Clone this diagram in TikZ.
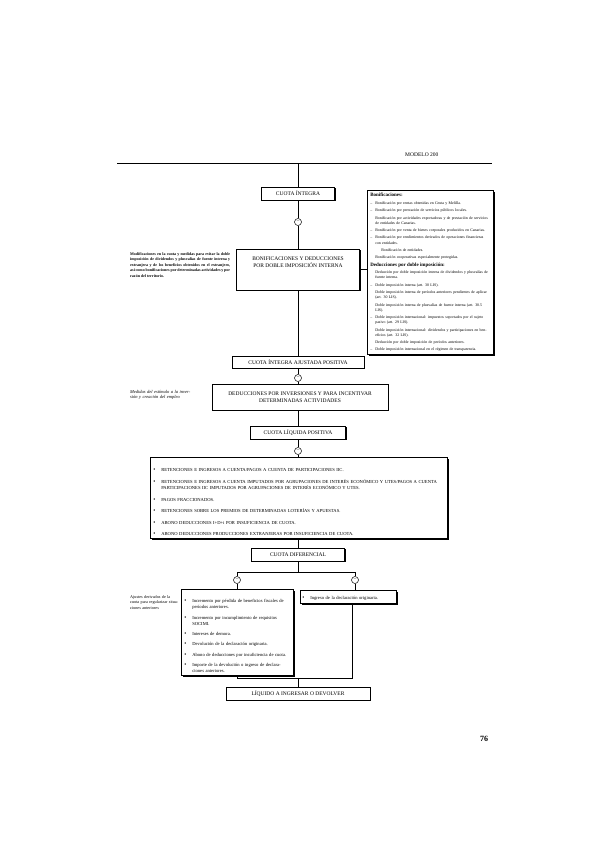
\documentclass[tikz,border=0pt]{standalone}
\usepackage{fontspec}
\setmainfont{Liberation Serif}
\usetikzlibrary{shadows}
\newcommand{\dashitem}[1]{\par\noindent\hangindent=5pt\hangafter=1\makebox[5pt][l]{–}#1\par}
\newcommand{\plainitem}[1]{\par\noindent\hangindent=5pt\hangafter=0 #1\par}
\newcommand{\dotitem}[1]{\par\noindent\hangindent=8pt\hangafter=1\makebox[8pt][l]{\fontsize{6}{6}\selectfont•}#1\par}
\tikzset{
  boxs/.style={draw, line width=0.6pt, fill=white,
    drop shadow={shadow xshift=1.3pt, shadow yshift=-1.3pt, fill=black, opacity=1},
    font=\fontsize{5.5}{6.5}\selectfont, inner sep=1pt, align=center},
  sumc/.style={draw, circle, line width=0.5pt, fill=white, minimum size=7pt,
    inner sep=0pt, font=\fontsize{5}{5}\selectfont},
  conn/.style={line width=0.6pt},
  note/.style={anchor=north west, inner sep=0pt, align=justify},
  boxtext/.style={inner sep=0pt, align=center, font=\fontsize{5.5}{6.5}\selectfont}
}
\begin{document}
\begin{tikzpicture}[x=1pt,y=-1pt]
\useasboundingbox (0,0) rectangle (612,848);
\fill[white] (0,0) rectangle (612,848);

% header
\node[anchor=west, inner sep=0pt, font=\fontsize{5.5}{6}\selectfont] (hdr) at (405,155) {MODELO 200};
\draw[line width=0.7pt] (117,163) -- (492,163);
\node[anchor=center, inner sep=0pt, font=\bfseries\fontsize{8}{9}\selectfont] (pg) at (484,739) {76};

% main column
\coordinate (tp) at (298,163);
\node[boxs, minimum width=73pt, minimum height=13pt] (ci) at (298,193.5) {CUOTA ÍNTEGRA};
\node[sumc] (c1) at (298,222) {–};
\node[boxs, minimum width=123pt, minimum height=41pt] (bon) at (298,269.5) {};
\node[boxtext] (bontxt) at (298,262) {BONIFICACIONES Y DEDUCCIONES\\POR DOBLE IMPOSICIÓN INTERNA};

\node[boxs, anchor=north west, text width=120pt, inner sep=3pt, align=left,
      font=\fontsize{3.9}{5.1}\selectfont] (bonr) at (367,190) {%
\setlength{\parskip}{2.3pt}%
\noindent\textbf{\fontsize{5}{6}\selectfont Bonificaciones:}
\dashitem{Bonificación por rentas obtenidas en Ceuta y Melilla.}
\dashitem{Bonificación por prestación de servicios públicos locales.}
\plainitem{Bonificación por actividades exportadoras y de prestación de servicios de entidades de Canarias.}
\dashitem{Bonificación por venta de bienes corporales producidos en Canarias.}
\dashitem{Bonificación por rendimientos derivados de operaciones financieras con entidades.}
\plainitem{\hspace*{6pt}Bonificación de entidades.}
\plainitem{Bonificación cooperativas especialmente protegidas.}
\noindent\textbf{\fontsize{5}{6}\selectfont Deducciones por doble imposición:}
\plainitem{Deducción por doble imposición interna de dividendos y plusvalías de fuente interna.}
\dashitem{Doble imposición interna (art. 30 LIS).}
\plainitem{Doble imposición interna de períodos anteriores pendientes de aplicar (art. 30 LIS).}
\plainitem{Doble imposición interna de plusvalías de fuente interna (art. 30.5 LIS).}
\dashitem{Doble imposición internacional: impuestos soportados por el sujeto pasivo (art. 29 LIS).}
\plainitem{Doble imposición internacional: dividendos y participaciones en beneficios (art. 32 LIS).}
\plainitem{Deducción por doble imposición de períodos anteriores.}
\dashitem{Doble imposición internacional en el régimen de transparencia.}
};

\node[note, text width=100pt, font=\bfseries\fontsize{4}{5.6}\selectfont] (n1) at (130,252) {Modificaciones en la cuota y medidas para evitar la doble imposición de dividendos y plusvalías de fuente interna y extranjera y de los beneficios obtenidos en el extranjero, así como bonificaciones por determinadas actividades y por razón del territorio.};

\node[boxs, minimum width=132pt, minimum height=12pt] (ciap) at (298,362) {CUOTA ÍNTEGRA AJUSTADA POSITIVA};
\node[sumc] (c2) at (298,378) {–};
\node[boxs, minimum width=176pt, minimum height=26pt] (ded) at (300,397) {DEDUCCIONES POR INVERSIONES Y PARA INCENTIVAR\\DETERMINADAS ACTIVIDADES};
\node[note, text width=64pt, font=\itshape\fontsize{4.5}{5.6}\selectfont, align=left] (n2) at (130,390) {Medidas del estímulo a la inversión y creación del empleo};

\node[boxs, minimum width=95pt, minimum height=13pt] (clp) at (298,432.5) {CUOTA LÍQUIDA POSITIVA};
\node[sumc] (c3) at (298,451) {–};
\node[boxs, anchor=north west, text width=291pt, inner sep=3pt, align=left,
      font=\fontsize{4.6}{6.8}\selectfont] (ret) at (150,457) {%
\setlength{\parskip}{4.6pt}%
\dotitem{RETENCIONES E INGRESOS A CUENTA/PAGOS A CUENTA DE PARTICIPACIONES IIC.}
\dotitem{RETENCIONES E INGRESOS A CUENTA IMPUTADOS POR AGRUPACIONES DE INTERÉS ECONÓMICO Y UTES/PAGOS A CUENTA PARTICIPACIONES IIC IMPUTADOS POR AGRUPACIONES DE INTERÉS ECONÓMICO Y UTES.}
\dotitem{PAGOS FRACCIONADOS.}
\dotitem{RETENCIONES SOBRE LOS PREMIOS DE DETERMINADAS LOTERÍAS Y APUESTAS.}
\dotitem{ABONO DEDUCCIONES I+D+i POR INSUFICIENCIA DE CUOTA.}
\dotitem{ABONO DEDUCCIONES PRODUCCIONES EXTRANJERAS POR INSUFICIENCIA DE CUOTA.}
};

\node[boxs, minimum width=93pt, minimum height=13pt] (cd) at (298,554.5) {CUOTA DIFERENCIAL};
\coordinate (bj) at (298,572);
\coordinate (bl) at (237,572);
\coordinate (br) at (355,572);
\node[sumc] (cl) at (237,580) {–};
\node[sumc] (cr) at (355,580) {–};

\node[boxs, anchor=north west, text width=106pt, inner sep=3pt, align=left,
      font=\fontsize{4.6}{6}\selectfont] (lb) at (181,589) {%
\setlength{\parskip}{4.4pt}%
\dotitem{Incremento por pérdida de beneficios fiscales de períodos anteriores.}
\dotitem{Incremento por incumplimiento de requisitos SOCIMI.}
\dotitem{Intereses de demora.}
\dotitem{Devolución de la declaración originaria.}
\dotitem{Abono de deducciones por insuficiencia de cuota.}
\dotitem{Importe de la devolución o ingreso de declaraciones anteriores.}
};
\node[boxs, anchor=north west, text width=92pt, minimum height=13pt, inner sep=2pt, align=left,
      font=\fontsize{4.6}{6}\selectfont] (rb) at (300,590) {\dotitem{Ingreso de la declaración originaria.}};

\node[note, text width=50pt, font=\fontsize{4.2}{5.6}\selectfont, align=left] (n3) at (130,595) {Ajustes derivados de la cuota para regularizar situaciones anteriores};

\coordinate (jl) at (237,678);
\coordinate (jr) at (352,678);
\coordinate (jm) at (298,678);
\node[boxs, minimum width=144pt, minimum height=13pt] (liq) at (298,693.5) {LÍQUIDO A INGRESAR O DEVOLVER};

% connectors
\draw[conn] (tp) -- (ci.north);
\draw[conn] (ci.south) -- (c1.north);
\draw[conn] (c1.south) -- (bon.north);
\draw[conn] (bon.east) -- (bon.east -| bonr.west);
\draw[conn] (bon.south) -- (ciap.north);
\draw[conn] (ciap.south) -- (c2.north);
\draw[conn] (c2.south) -- (c2.south |- ded.north);
\draw[conn] (ded.south -| clp.north) -- (clp.north);
\draw[conn] (clp.south) -- (c3.north);
\draw[conn] (c3.south) -- (c3.south |- ret.north);
\draw[conn] (ret.south -| cd.north) -- (cd.north);
\draw[conn] (cd.south) -- (bj);
\draw[conn] (bl) -- (br);
\draw[conn] (bl) -- (cl.north);
\draw[conn] (br) -- (cr.north);
\draw[conn] (cl.south) -- (cl.south |- lb.north);
\draw[conn] (cr.south) -- (cr.south |- rb.north);
\draw[conn] (lb.south -| jl) -- (jl) -- (jr) -- (rb.south -| jr);
\draw[conn] (jm) -- (liq.north);
\end{tikzpicture}
\end{document}
